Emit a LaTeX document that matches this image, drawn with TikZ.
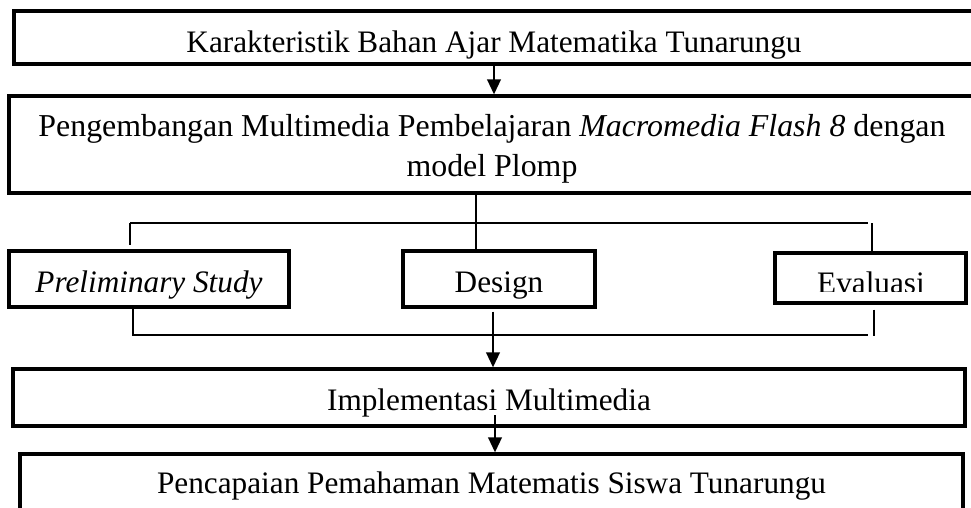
\documentclass[tikz,border=0pt]{standalone}
\usepackage{fontspec}
\setmainfont{Liberation Serif}
\usepackage{tikz}
\usetikzlibrary{arrows.meta, positioning, calc}

\begin{document}
\begin{tikzpicture}[x=0.4pt, y=-0.4pt,
    box/.style={draw, line width=1.3pt, inner sep=0pt, align=center,
                font=\fontsize{12.5}{16}\selectfont,
                text height=12.5pt, text depth=1.5pt},
    conn/.style={line width=0.9pt},
    arr/.style={line width=0.9pt, -{Triangle[length=6pt, width=5.4pt]}}]
  \useasboundingbox (0,0) rectangle (971,507);
  \clip (0,0) rectangle (971,507);

  % main chain
  \node[box, minimum width=384pt, minimum height=21.2pt, text height=15pt, text depth=3.1pt]
       (kar) at (494,37.5) {Karakteristik Bahan Ajar Matematika Tunarungu};
  \node[box, minimum width=386.4pt, minimum height=38.8pt, text height=28.5pt, text depth=3.1pt,
        font=\fontsize{12.75}{16}\selectfont]
       (pgb) at (492,144.5) {Pengembangan Multimedia Pembelajaran \textit{Macromedia Flash 8} dengan\\ model Plomp};
  \node[box, minimum width=112pt, minimum height=22.4pt]
       (pre) at (149,279) {\textit{Preliminary Study}};
  \node[box, minimum width=76.8pt, minimum height=22.4pt]
       (des) at (499,279) {Design};
  \node[box, minimum width=76.4pt, minimum height=20pt]
       (eva) at (870.5,278) {};
  \begin{scope}
    \clip (775,253) rectangle (966,291);
    \node[box, draw=none, text depth=3.1pt] (evatxt) at (871,282) {Evaluasi};
  \end{scope}
  \node[box, minimum width=380.8pt, minimum height=22.8pt, text depth=2.3pt]
       (imp) at (489,397.5) {Implementasi Multimedia};
  \node[box, minimum width=377.2pt, minimum height=22.4pt, text depth=3.1pt]
       (pen) at (491.5,482) {Pencapaian Pemahaman Matematis Siswa Tunarungu};

  \draw[arr] (kar.south) -- (kar.south |- pgb.north);

  % branching to the three stages
  \coordinate (jt) at (476,223);
  \coordinate (tl) at (130,223);
  \coordinate (tr) at (868,223);
  \coordinate (trk) at (872,223);
  \draw[conn] (jt |- pgb.south) -- (jt |- des.north);
  \draw[conn] (tl) -- (tr);
  \draw[conn] (tl) -- ($(tl |- pre.north)+(0,-4)$);
  \draw[conn] (trk) -- (trk |- eva.north);

  % joining back
  \coordinate (bl) at (133,335);
  \coordinate (br) at (868,335);
  \coordinate (brk) at (874,336);
  \coordinate (jb) at (493,335);
  \draw[conn] (bl |- pre.south) -- (bl) -- (br);
  \draw[conn] ($(brk |- eva.south)+(0,5)$) -- (brk);
  \draw[arr] ($(jb |- des.south)+(0,3)$) -- (jb |- imp.north);

  \coordinate (jm) at (495,415);
  \draw[arr] (jm) -- (jm |- pen.north);
\end{tikzpicture}
\end{document}
